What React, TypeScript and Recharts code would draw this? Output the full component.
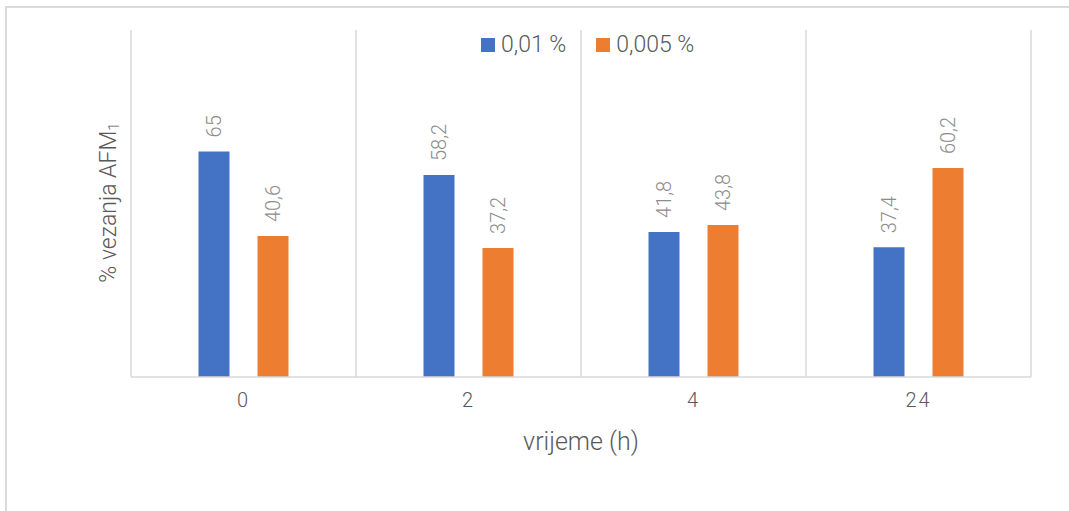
import { BarChart, Bar, XAxis, YAxis, CartesianGrid, LabelList } from 'recharts'

const vrijeme = ['0', '2', '4', '24']
const konc001 = [65, 58.2, 41.8, 37.4]
const konc0005 = [40.6, 37.2, 43.8, 60.2]

const SERIJE = [
  { key: 'a', naziv: '0,01 %', boja: '#4472C4' },
  { key: 'b', naziv: '0,005 %', boja: '#ED7D31' },
]

const podaci = vrijeme.map((t, i) => ({ t, a: konc001[i], b: konc0005[i] }))

const FONT = 'Roboto, "Open Sans", sans-serif'
const SIVA = '#595959'

function fmt(v: number) {
  return String(v).replace('.', ',')
}

function OznakaStupca(props: any) {
  const { x, y, width, value } = props
  const cx = x + width / 2
  const cy = y - 14
  return (
    <text
      x={cx}
      y={cy}
      transform={`rotate(-90 ${cx} ${cy})`}
      textAnchor="start"
      dominantBaseline="central"
      fontFamily={FONT}
      fontWeight={300}
      fontSize={20}
      fill="#8c8c8c"
    >
      {fmt(value)}
    </text>
  )
}

function Legenda() {
  return (
    <div
      style={{
        position: 'absolute', left: 481, top: 31, display: 'flex', alignItems: 'center',
        fontFamily: FONT, fontWeight: 300, fontSize: 23, color: SIVA,
      }}
    >
      {SERIJE.map((s) => (
        <div key={s.key} style={{ display: 'flex', alignItems: 'center', marginRight: 30 }}>
          <span style={{ width: 14, height: 14, background: s.boja, marginRight: 6 }} />
          <span>{s.naziv}</span>
        </div>
      ))}
    </div>
  )
}

export default function App() {
  return (
    <div style={{ position: 'absolute', left: 0, top: 0, width: 1069, height: 511, overflow: 'hidden', background: '#fff' }}>
      <div
        style={{
          position: 'absolute', left: 5, top: 6, width: 1200, height: 600,
          borderTop: '2px solid #d9d9d9', borderLeft: '2px solid #d9d9d9',
        }}
      />
      <div style={{ position: 'absolute', left: 0, top: 0 }}>
        <BarChart
          width={1069}
          height={511}
          data={podaci}
          margin={{ top: 30, right: 38, bottom: 74, left: 0 }}
          barCategoryGap="30%"
          barGap={28}
        >
          <CartesianGrid
            horizontal={false}
            stroke="#d9d9d9"
            strokeWidth={1.5}
            verticalCoordinatesGenerator={({ offset }: any) =>
              [0, 1, 2, 3, 4].map((i) => offset.left + (i * offset.width) / vrijeme.length)
            }
          />
          <XAxis
            dataKey="t"
            height={60}
            tickLine={false}
            axisLine={{ stroke: '#d9d9d9', strokeWidth: 1.5 }}
            tickMargin={10}
            tick={{ fontFamily: FONT, fontWeight: 300, fontSize: 20, fill: SIVA, letterSpacing: 2 }}
            label={{
              content: (p: any) => (
                <text
                  x={p.viewBox.x + p.viewBox.width / 2}
                  y={p.viewBox.y + 64}
                  textAnchor="middle"
                  dominantBaseline="central"
                  fontFamily={FONT}
                  fontWeight={300}
                  fontSize={25}
                  fill={SIVA}
                >
                  vrijeme (h)
                </text>
              ),
            }}
          />
          <YAxis
            domain={[0, 100]}
            width={131}
            tick={false}
            tickLine={false}
            axisLine={false}
            label={{
              content: (p: any) => {
                const cx = 108
                const cy = p.viewBox.y + p.viewBox.height / 2 - 1
                return (
                  <text
                    x={cx}
                    y={cy}
                    transform={`rotate(-90 ${cx} ${cy})`}
                    textAnchor="middle"
                    dominantBaseline="central"
                    fontFamily={FONT}
                    fontWeight={300}
                    fontSize={23}
                    fill={SIVA}
                  >
                    % vezanja AFM
                    <tspan fontSize={15} dy={6}>1</tspan>
                  </text>
                )
              },
            }}
          />
          {SERIJE.map((s) => (
            <Bar key={s.key} dataKey={s.key} name={s.naziv} fill={s.boja} isAnimationActive={false}>
              <LabelList dataKey={s.key} content={OznakaStupca} />
            </Bar>
          ))}
        </BarChart>
      </div>
      <Legenda />
    </div>
  )
}
